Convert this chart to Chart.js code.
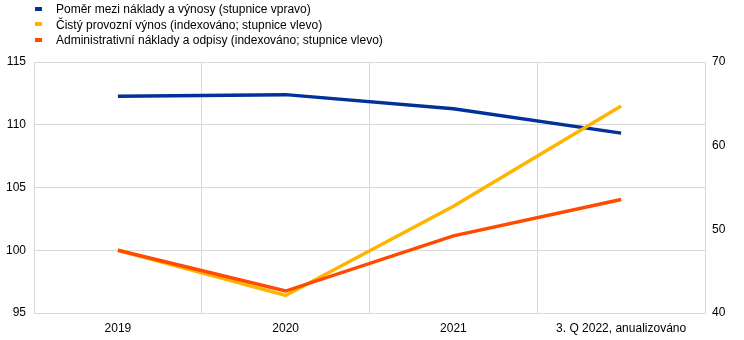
<!DOCTYPE html>
<html>
<head>
<meta charset="utf-8">
<script src="https://cdn.jsdelivr.net/npm/chart.js@4/dist/chart.umd.min.js"></script>
<style>
  html, body { margin: 0; padding: 0; background: #fff; }
  #wrap { position: relative; width: 744px; height: 340px; }
  #legend { position: absolute; left: 35px; top: 2px; font: 12px "Liberation Sans", Arial, sans-serif; color: #000; }
  #legend div { height: 15.5px; line-height: 15.5px; white-space: nowrap; }
  #legend span.mk { display: inline-block; width: 7px; height: 4px; margin-right: 14px; vertical-align: middle; position: relative; top: -1px; }
</style>
</head>
<body>
<div id="wrap">
  <canvas id="costChart" width="744" height="340"></canvas>
  <div id="legend"></div>
</div>
<script>
// categories and series
var years = ["2019", "2020", "2021", "3. Q 2022, anualizováno"];
var costIncomeRatio = [65.9, 66.1, 64.4, 61.5];     // right axis, %
var netOperatingIncome = [100, 96.4, 103.5, 111.5]; // index, left axis
var adminCosts = [100, 96.75, 101.15, 104.05];      // index, left axis

var leftTicks = [95, 100, 105, 110, 115];
var rightTicks = [40, 50, 60, 70];

var seriesNames = [
  "Poměr mezi náklady a výnosy (stupnice vpravo)",
  "Čistý provozní výnos (indexováno; stupnice vlevo)",
  "Administrativní náklady a odpisy (indexováno; stupnice vlevo)"
];
var seriesColors = ["#003299", "#ffb400", "#ff4b00"];

Chart.defaults.font.family = '"Liberation Sans", Arial, sans-serif';
Chart.defaults.font.size = 12;
Chart.defaults.color = '#000';

function lineSet(i, data, axis, order) {
  return {
    label: seriesNames[i],
    data: data,
    yAxisID: axis,
    borderColor: seriesColors[i],
    backgroundColor: seriesColors[i],
    borderWidth: 3.5,
    pointRadius: 0,
    tension: 0,
    order: order
  };
}

var ctx = document.getElementById("costChart");
var costChart = new Chart(ctx, {
  type: 'line',
  data: {
    labels: years,
    datasets: [
      lineSet(0, costIncomeRatio, 'yRight', 3),
      lineSet(1, netOperatingIncome, 'yLeft', 2),
      lineSet(2, adminCosts, 'yLeft', 1)
    ]
  },
  options: {
    responsive: false,
    animation: false,
    layout: { padding: { top: 62, left: 0, right: 0, bottom: 0 } },
    plugins: {
      legend: { display: false },
      tooltip: { enabled: false }
    },
    scales: {
      x: {
        offset: true,
        grid: { offset: true, color: '#d9d9d9', drawTicks: false },
        border: { color: '#d9d9d9' },
        ticks: { padding: 8, maxRotation: 0, autoSkip: false },
        afterFit: function (s) { s.height = 27; }
      },
      yLeft: {
        position: 'left',
        min: 95, max: 115,
        afterBuildTicks: function (s) { s.ticks = leftTicks.map(function (v) { return { value: v }; }); },
        grid: { color: '#d9d9d9', drawTicks: false },
        border: { color: '#d9d9d9' },
        ticks: { padding: 8 },
        afterFit: function (s) { s.width = 34; }
      },
      yRight: {
        position: 'right',
        min: 40, max: 70,
        afterBuildTicks: function (s) { s.ticks = rightTicks.map(function (v) { return { value: v }; }); },
        grid: { display: false, drawTicks: false },
        border: { color: '#d9d9d9' },
        ticks: { padding: 7 },
        afterFit: function (s) { s.width = 39; }
      }
    }
  }
});

// legend rows built from the datasets
var legendBox = document.getElementById("legend");
costChart.data.datasets.forEach(function (ds) {
  var row = document.createElement("div");
  var mk = document.createElement("span");
  mk.className = "mk";
  mk.style.background = ds.borderColor;
  row.appendChild(mk);
  row.appendChild(document.createTextNode(ds.label));
  legendBox.appendChild(row);
});
</script>
</body>
</html>
